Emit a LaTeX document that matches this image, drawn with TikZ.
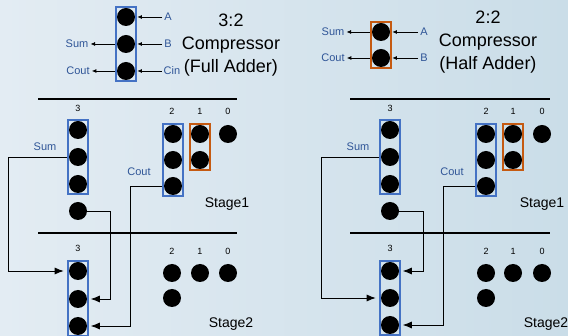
\documentclass[tikz,border=0pt]{standalone}
\usepackage{fontspec}
\setmainfont{Liberation Sans}
\usetikzlibrary{arrows.meta,positioning,fit}
\definecolor{MyBlue}{HTML}{4472C4}
\definecolor{MyOrange}{HTML}{C55A11}
\definecolor{MyText}{HTML}{2F5597}
\definecolor{MyBgL}{HTML}{E3ECF3}
\definecolor{MyBgR}{HTML}{CADDE8}
\tikzset{
	bit/.style={circle, fill=black, minimum size=18pt, inner sep=0pt},
	bluebox/.style={rectangle, draw=MyBlue, line width=2.2pt, inner sep=1pt},
	orangebox/.style={rectangle, draw=MyOrange, line width=2.2pt, inner sep=1pt},
	sig/.style={text=MyText, font=\fontsize{11}{13}\selectfont, inner sep=2pt},
	colnum/.style={font=\fontsize{9}{10}\selectfont, inner sep=1pt},
	title/.style={font=\fontsize{18}{23}\selectfont, align=center},
	stagelbl/.style={font=\fontsize{14}{16}\selectfont},
	wire/.style={line width=0.8pt},
	tip/.style={-{Latex[length=9pt,width=7pt]}},
	smalltip/.style={-{Latex[length=4.5pt,width=4pt]}},
}

\begin{document}
\begin{tikzpicture}[x=1pt, y=-1pt]
	\fill[left color=MyBgL, right color=MyBgR] (0,0) rectangle (568,336);
	\useasboundingbox (0,0) rectangle (568,336);
	
	% full adder
	\foreach \n/\y in {a/17,b/44,c/71}{
		\node[bit] (FA\n) at (126,\y) {};}
	\node[bluebox, fit=(FAa)(FAc)] (FA) {};
	\node[sig] (FAinA) at (168,17) {A};
	\node[sig] (FAinB) at (168,44) {B};
	\node[sig] (FAinC) at (172,71) {Cin};
	\node[sig] (FAsum) at (77,44) {Sum};
	\node[sig] (FAcout) at (78,71) {Cout};
	\draw[wire, smalltip] (FAinA.west) -- (FA.east |- FAa);
	\draw[wire, smalltip] (FAinB.west) -- (FA.east |- FAb);
	\draw[wire, smalltip] (FAinC.west) -- (FA.east |- FAc);
	\draw[wire, smalltip] (FA.west |- FAb) -- (FAsum.east);
	\draw[wire, smalltip] (FA.west |- FAc) -- (FAcout.east);
	\node[title] (FAtitle) at (231,45) {3:2\\Compressor\\(Full Adder)};
	
	% half adder
	\foreach \n/\y in {a/32,b/58}{
		\node[bit] (HA\n) at (381,\y) {};}
	\node[orangebox, fit=(HAa)(HAb)] (HA) {};
	\node[sig] (HAinA) at (424,32) {A};
	\node[sig] (HAinB) at (424,58) {B};
	\node[sig] (HAsum) at (333,32) {Sum};
	\node[sig] (HAcout) at (333,58) {Cout};
	\draw[wire, smalltip] (HAinA.west) -- (HA.east |- HAa);
	\draw[wire, smalltip] (HAinB.west) -- (HA.east |- HAb);
	\draw[wire, smalltip] (HA.west |- HAa) -- (HAsum.east);
	\draw[wire, smalltip] (HA.west |- HAb) -- (HAcout.east);
	\node[title] (HAtitle) at (488,42) {2:2\\Compressor\\(Half Adder)};
	
	% left: stage 1
	\draw[line width=1.2pt] (38,99) -- (237,99);
	\node[colnum] (L1n3) at (78,108) {3};
	\foreach \c/\x in {2/172,1/200,0/228}{
		\node[colnum] (L1n\c) at (\x,111) {\c};}
	\foreach \n/\y in {a/130,b/157,c/184,d/211}{
		\node[bit] (L1t\n) at (78,\y) {};}
	\foreach \n/\y in {a/134,b/160,c/186}{
		\node[bit] (L1s\n) at (173,\y) {};}
	\foreach \n/\y in {a/134,b/160}{
		\node[bit] (L1o\n) at (200,\y) {};}
	\node[bit] (L1z) at (228,134) {};
	\node[bluebox, fit=(L1ta)(L1tc)] (L1T) {};
	\node[bluebox, fit=(L1sa)(L1sc)] (L1S) {};
	\node[orangebox, fit=(L1oa)(L1ob)] (L1O) {};
	\node[sig] (L1sum) at (45,147) {Sum};
	\node[sig] (L1cout) at (139,172) {Cout};
	\node[stagelbl] (L1stage) at (227,204) {Stage1};
	
	% left: stage 2
	\draw[line width=1.2pt] (38,233) -- (237,233);
	\node[colnum] (L2n3) at (78,248) {3};
	\foreach \c/\x in {2/172,1/200,0/228}{
		\node[colnum] (L2n\c) at (\x,251) {\c};
		\node[bit] (L2r\c) at (\x,273) {};}
	\node[bit] (L2e) at (172,298) {};
	\foreach \n/\y in {a/271,b/299,c/326}{
		\node[bit] (L2t\n) at (78,\y) {};}
	\node[bluebox, fit=(L2ta)(L2tc)] (L2T) {};
	\node[stagelbl] (L2stage) at (231,324) {Stage2};
	
	\draw[wire, tip] (L1T.west |- L1tb) -- ++(-58,0) |- ([xshift=-3pt]L2T.west |- L2ta);
	\draw[wire, tip] (L1td.east) -- ++(23,0) |- ([xshift=1.5pt]L2T.east |- L2tb);
	\draw[wire, tip] (L1S.west |- L1sc) -- ++(-31,0) |- ([xshift=1.5pt]L2T.east |- L2tc);
	
	% right: stage 1
	\draw[line width=1.2pt] (350,99) -- (550,99);
	\node[colnum] (R1n3) at (390,108) {3};
	\foreach \c/\x in {2/486,1/513,0/542}{
		\node[colnum] (R1n\c) at (\x,111) {\c};}
	\foreach \n/\y in {a/130,b/157,c/184,d/211}{
		\node[bit] (R1t\n) at (390,\y) {};}
	\foreach \n/\y in {a/134,b/160,c/186}{
		\node[bit] (R1s\n) at (486,\y) {};}
	\foreach \n/\y in {a/134,b/160}{
		\node[bit] (R1o\n) at (513,\y) {};}
	\node[bit] (R1z) at (542,134) {};
	\node[bluebox, fit=(R1ta)(R1tc)] (R1T) {};
	\node[bluebox, fit=(R1sa)(R1sc)] (R1S) {};
	\node[orangebox, fit=(R1oa)(R1ob)] (R1O) {};
	\node[sig] (R1sum) at (358,147) {Sum};
	\node[sig] (R1cout) at (452,172) {Cout};
	\node[stagelbl] (R1stage) at (542,204) {Stage1};
	
	% right: stage 2
	\draw[line width=1.2pt] (350,233) -- (550,233);
	\node[colnum] (R2n3) at (390,248) {3};
	\foreach \c/\x in {2/486,1/513,0/542}{
		\node[colnum] (R2n\c) at (\x,251) {\c};
		\node[bit] (R2r\c) at (\x,273) {};}
	\node[bit] (R2e) at (486,298) {};
	\foreach \n/\y in {a/271,b/298,c/325}{
		\node[bit] (R2t\n) at (390,\y) {};}
	\node[bluebox, fit=(R2ta)(R2tc)] (R2T) {};
	\node[stagelbl] (R2stage) at (546,324) {Stage2};
	
	\draw[wire, tip] (R1T.west |- R1tb) -- ++(-57,0) |- ([xshift=-3pt]R2T.west |- R2tb);
	\draw[wire, tip] (R1td.east) -- ++(24,0) |- ([xshift=1.5pt]R2T.east |- R2ta);
	\draw[wire, tip] (R1S.west |- R1sc) -- ++(-31,0) |- ([xshift=1.5pt]R2T.east |- R2tc);
\end{tikzpicture}
\end{document}
